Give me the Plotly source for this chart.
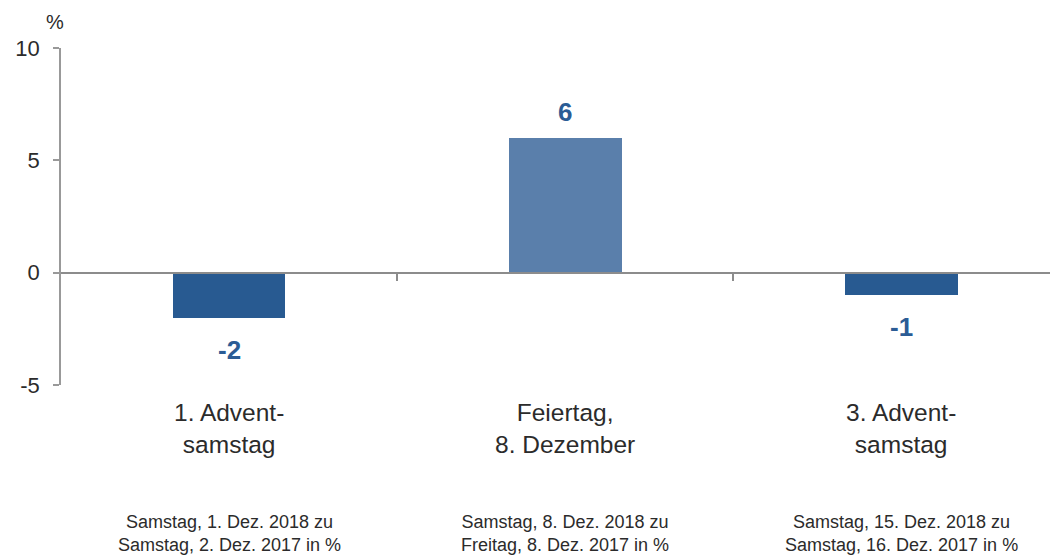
import plotly.graph_objects as go

categories = ["1. Advent-<br>samstag", "Feiertag,<br>8. Dezember", "3. Advent-<br>samstag"]
values = [-2, 6, -1]
value_labels = ["-2", "6", "-1"]
notes = [
    "Samstag, 1. Dez. 2018 zu<br>Samstag, 2. Dez. 2017 in %",
    "Samstag, 8. Dez. 2018 zu<br>Freitag, 8. Dez. 2017 in %",
    "Samstag, 15. Dez. 2018 zu<br>Samstag, 16. Dez. 2017 in %",
]
bar_colors = ["#285A91", "#5A7FAB", "#285A91"]
y_ticks = [-5, 0, 5, 10]

xpos = list(range(len(categories)))
FONT = "Liberation Sans, Arial, sans-serif"
TXT = "#2b2b2b"
LABEL_BLUE = "#2B5C95"

fig = go.Figure()
fig.add_trace(go.Bar(
    x=xpos, y=values, marker=dict(color=bar_colors, line=dict(width=0)),
    width=0.336, hoverinfo="skip", showlegend=False,
))

annotations = []
for i, (v, t) in enumerate(zip(values, value_labels)):
    annotations.append(dict(
        x=i, y=v, xref="x", yref="y", text=f"<b>{t}</b>", showarrow=False,
        yanchor="middle", yshift=(26 if v > 0 else -32),
        font=dict(family=FONT, size=26, color=LABEL_BLUE),
    ))
for i, c in enumerate(categories):
    annotations.append(dict(
        x=i, y=-0.13, xref="x", yref="paper", text=c, showarrow=False,
        yanchor="middle", font=dict(family=FONT, size=24.5, color=TXT),
    ))
for i, n in enumerate(notes):
    annotations.append(dict(
        x=i, y=-0.44, xref="x", yref="paper", text=n, showarrow=False,
        yanchor="middle", font=dict(family=FONT, size=18, color=TXT),
    ))
annotations.append(dict(
    x=-0.006, y=1.078, xref="paper", yref="paper", text="%", showarrow=False,
    xanchor="center", yanchor="middle", font=dict(family=FONT, size=20, color=TXT),
))

fig.update_layout(
    width=1050, height=558,
    margin=dict(l=61, r=0, t=48, b=173),
    paper_bgcolor="white", plot_bgcolor="white",
    font=dict(family=FONT, color=TXT),
    annotations=annotations,
    bargap=0,
    xaxis=dict(
        range=[-0.5, 2.443], anchor="free", position=1/3,
        showline=True, linecolor="#8C8C8C", linewidth=2,
        ticks="outside", tickvals=[0.5, 1.5], ticklen=7, tickwidth=2, tickcolor="#8C8C8C",
        showticklabels=False, showgrid=False, zeroline=False, fixedrange=True,
    ),
    yaxis=dict(
        range=[-5, 10], tickvals=y_ticks, ticktext=[str(t) for t in y_ticks],
        showline=True, linecolor="#999999", linewidth=1.5,
        ticks="outside", ticklen=6, tickwidth=1.5, tickcolor="#999999",
        tickfont=dict(family=FONT, size=22, color=TXT),
        ticklabelstandoff=9,
        showgrid=False, zeroline=False,
    ),
)

fig.write_html("out.html")
